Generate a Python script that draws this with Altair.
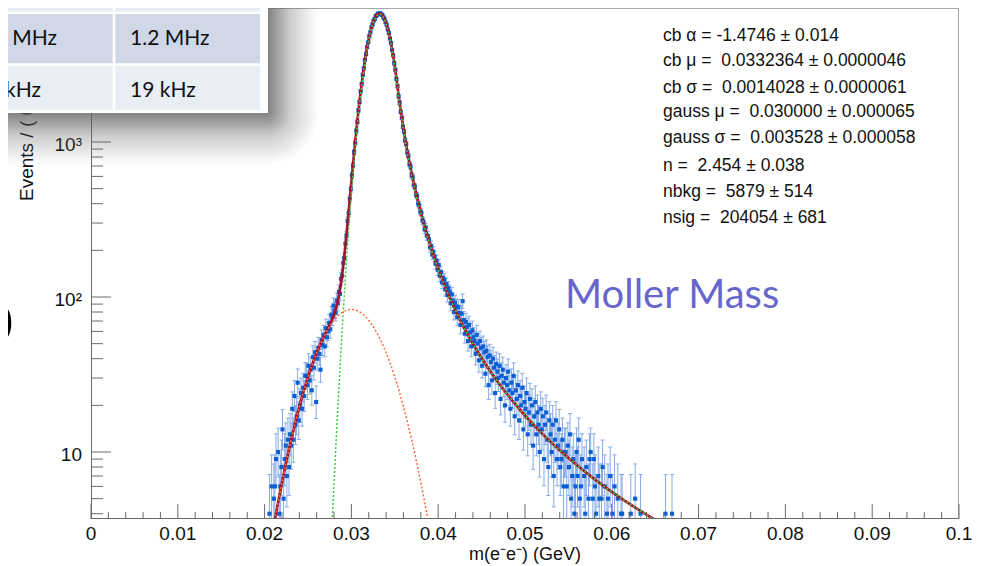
import altair as alt
import numpy as np
import pandas as pd

# ---------------- data ----------------
BIN_FIRST_EDGE = 0.0205      # GeV, left edge of first plotted bin
BIN_WIDTH = 0.000125         # GeV
counts = [
    4, 2, 6, 3, 5, 6, 9, 3, 10, 4,
    6, 8, 14, 5, 9, 11, 7, 12, 8, 13,
    11, 19, 12, 23, 15, 17, 28, 16, 20, 24,
    19, 26, 23, 31, 31, 27, 36, 29, 34, 25,
    41, 35, 44, 21, 40, 47, 43, 34, 53, 49,
    57, 48, 63, 55, 60, 68, 62, 77, 74, 88,
    82, 79, 95, 91, 108, 105, 131, 137, 166, 178,
    221, 249, 310, 348, 431, 498, 612, 706, 861, 989,
    1182, 1349, 1601, 1812, 2121, 2365, 2712, 2986, 3391, 3689,
    4102, 4398, 4815, 5102, 5497, 5731, 6064, 6221, 6493, 6581,
    6735, 6702, 6781, 6651, 6598, 6372, 6236, 5918, 5706, 5331,
    5061, 4652, 4347, 3921, 3624, 3215, 2927, 2550, 2289, 1972,
    1794, 1561, 1436, 1251, 1169, 1027, 971, 858, 812, 721,
    695, 611, 592, 527, 516, 457, 449,
    402, 391, 355, 350, 312, 305, 273, 281, 249, 247,
    236, 209, 214, 188, 196, 183, 164, 172, 150, 161,
    137, 145, 124, 133, 129, 112, 121, 103, 114, 108,
    91, 104, 95, 80, 92, 87, 74, 86, 79, 66,
    78, 94, 71, 58, 69, 64, 52, 66, 59, 48,
    61, 55, 52, 43, 57, 50, 39, 52, 47, 36,
    48, 44, 32, 45, 41, 27, 42, 38, 29, 40,
    35, 24, 37, 33, 30, 36, 22, 31, 34, 28,
    20, 30, 27, 33, 25, 19, 28, 24, 31, 17,
    25, 22, 27, 16, 23, 20, 26, 14, 21, 19,
    24, 13, 18, 22, 15, 20, 11, 17, 21, 13,
    18, 15, 10, 19, 14, 17, 9, 15, 18, 12,
    8, 16, 13, 10, 15, 7, 12, 16, 9, 11,
    14, 8, 9, 12, 6, 10, 10, 6, 11, 8,
    13, 5, 7, 9, 4, 6, 10, 7, 12, 5,
    6, 9, 3, 7, 4, 8, 2, 5, 9, 10,
    3, 5, 9, 6, 4, 3, 7, 5, 2, 5,
    8, 3, 6, 2, 4, 5, 3, 7, 2, 4,
    3, 6, 2, 3, 5, 3, 2, 4, 4, 3,
    2, 3, 2, 3, 1, 2, 4, 3, 2, 3,
    5, 2, 3, 1, 3, 4, 2, 3, 1, 2,
    3, 2, 3, 1, 2, 3, 2, 1, 3, 2,
    1, 3, 2, 0, 2, 1, 3, 2, 4, 1,
    2, 0, 1, 2, 4,
]

# total fit (red)
tot_x = [0.0200, 0.0205, 0.0210, 0.0215, 0.0220, 0.0225, 0.0230, 0.0235, 0.0240, 0.0245,
         0.0250, 0.0255, 0.0260, 0.0265, 0.0270,
         0.0275, 0.02775, 0.0280, 0.02825, 0.0285, 0.02875, 0.0290, 0.02925, 0.0295, 0.02975, 0.0300,
         0.03025, 0.0305, 0.03075, 0.0310, 0.03125, 0.0315, 0.03175, 0.0320, 0.03225, 0.0325,
         0.03275, 0.0330, 0.03325, 0.0335, 0.03375, 0.0340, 0.03425, 0.0345, 0.03475, 0.0350,
         0.03525, 0.0355, 0.03575,
         0.0360, 0.0365, 0.0370, 0.0375, 0.0380, 0.0385, 0.0390, 0.0395, 0.0400,
         0.041, 0.042, 0.043, 0.044, 0.045, 0.046, 0.047, 0.048, 0.049, 0.050,
         0.052, 0.054, 0.056, 0.058, 0.060, 0.062, 0.064, 0.066, 0.068]
tot_y = [1.50, 2.21, 3.21, 4.56, 6.35, 8.68, 11.6, 15.2, 19.6, 24.7,
         30.4, 36.8, 43.7, 50.8, 58.2,
         66.2, 71.0, 77.1, 85.6, 98.3, 118.2, 149.8, 199.2, 275.1, 387.9, 550.6,
         777.2, 1080.9, 1473.0, 1958.3, 2534.3, 3187.6, 3892.0, 4610.3, 5295.9, 5897.8,
         6365.7, 6658.5, 6749.1, 6628.7, 6308.3, 5817.1, 5197.4, 4499.6, 3774.8, 3068.1,
         2417.1, 1878.6, 1493.2,
         1210.8, 833.6, 602.9, 452.6, 349.6, 276.7, 223.2, 183.2, 152.4,
         109.5, 81.9, 63.1, 50.0, 40.4, 33.2, 27.7, 23.4, 20.0, 17.2,
         13.1, 10.26, 8.21, 6.69, 5.54, 4.65, 3.94, 3.38, 2.93]

# crystal-ball component (green, dotted)
cb_x = [0.0275, 0.0278, 0.0280, 0.02825, 0.0285, 0.02875, 0.0290, 0.02925, 0.0295, 0.02975, 0.0300,
        0.03025, 0.0305, 0.03075, 0.0310, 0.03125, 0.0315, 0.03175, 0.0320, 0.03225, 0.0325,
        0.03275, 0.0330, 0.03325, 0.0335, 0.03375, 0.0340, 0.03425, 0.0345, 0.03475, 0.0350,
        0.03525, 0.0355, 0.03575,
        0.0360, 0.0365, 0.0370, 0.0375, 0.0380, 0.0385, 0.0390, 0.0395, 0.0400,
        0.041, 0.042, 0.043, 0.044, 0.045, 0.046, 0.047, 0.048, 0.049, 0.050,
        0.052, 0.054, 0.056, 0.058, 0.060, 0.062, 0.064, 0.066, 0.068]
cb_y = [1.56, 3.67, 6.31, 12.07, 22.4, 40.2, 70.0, 118.0, 192.8, 305.0, 467.5,
        694.3, 998.6, 1391.8, 1878.5, 2456.3, 3111.7, 3818.5, 4539.5, 5228.1, 5833.2,
        6304.4, 6600.6, 6694.7, 6577.9, 6261.1, 5773.4, 5157.2, 4462.8, 3741.2, 3037.7,
        2389.6, 1853.9, 1471.2,
        1191.2, 818.4, 591.3, 443.9, 343.2, 272.1, 220.0, 181.0, 150.9,
        108.9, 81.7, 63.1, 50.0, 40.4, 33.2, 27.7, 23.4, 20.0, 17.2,
        13.1, 10.26, 8.21, 6.69, 5.54, 4.65, 3.94, 3.38, 2.93]

# gaussian background component (orange, dotted)
g_x = [0.0200, 0.0205, 0.0210, 0.0215, 0.0220, 0.0225, 0.0230, 0.0235, 0.0240, 0.0245,
       0.0250, 0.0255, 0.0260, 0.0265, 0.0270, 0.0275, 0.0280, 0.0285, 0.0290, 0.0295,
       0.0300, 0.0305, 0.0310, 0.0315, 0.0320, 0.0325, 0.0330, 0.0335, 0.0340, 0.0345,
       0.0350, 0.0355, 0.0360, 0.0365, 0.0370, 0.0375, 0.0380, 0.0385, 0.0390, 0.0395]
g_y = [1.50, 2.21, 3.21, 4.56, 6.35, 8.68, 11.6, 15.2, 19.6, 24.7,
       30.4, 36.8, 43.7, 50.8, 57.9, 64.6, 70.8, 75.9, 79.8, 82.3,
       83.1, 82.3, 79.8, 75.9, 70.8, 64.6, 57.9, 50.8, 43.7, 36.8,
       30.4, 24.7, 19.6, 15.2, 11.6, 8.68, 6.35, 4.56, 3.21, 2.21]

x_major = [0.0, 0.01, 0.02, 0.03, 0.04, 0.05, 0.06, 0.07, 0.08, 0.09, 0.1]
x_major_labels = ["0", "0.01", "0.02", "0.03", "0.04", "0.05", "0.06", "0.07", "0.08", "0.09", "0.1"]
x_minor = [round(0.002 * i, 4) for i in range(51) if i % 5 != 0]
y_major = [10, 100, 1000]
y_major_labels = ["10", "10²", "10³"]
y_minor = [4, 5, 6, 7, 8, 9, 20, 30, 40, 50, 60, 70, 80, 90,
           200, 300, 400, 500, 600, 700, 800, 900, 2000, 3000, 4000, 5000, 6000, 7000]

NB = "\u00a0"
stats_lines = [
    "cb α = -1.4746 ± 0.014",
    "cb μ = " + NB + "0.0332364 ± 0.0000046",
    "cb σ = " + NB + "0.0014028 ± 0.0000061",
    "gauss μ = " + NB + "0.030000 ± 0.000065",
    "gauss σ = " + NB + "0.003528 ± 0.000058",
    "n = " + NB + "2.454 ± 0.038",
    "nbkg = " + NB + "5879 ± 514",
    "nsig = " + NB + "204054 ± 681",
]

# ---------------- layout ----------------
F = "Liberation Sans"
FS = "Lato"
W, H = 868, 511
OX, OY = 91, 8          # page position of the plot origin


def P(xp):
    return xp - OX


def Q(yp):
    return yp - OY


xs = alt.Scale(domain=[0.0, 0.1], nice=False, zero=False)
ys = alt.Scale(type="log", domain=[3.697, 7320], nice=False)


def X(f):
    return alt.X(f, type="quantitative", scale=xs, axis=None)


def Y(f):
    return alt.Y(f, type="quantitative", scale=ys, axis=None)


n = np.array(counts, dtype=float)
xc = BIN_FIRST_EDGE + (np.arange(len(n)) + 0.5) * BIN_WIDTH
nn = np.maximum(n, 1.0)
lo = nn * (1 - 1 / (9 * nn) - 1 / (3 * np.sqrt(nn))) ** 3
hi = (n + 1) * (1 - 1 / (9 * (n + 1)) + 1 / (3 * np.sqrt(n + 1))) ** 3
pts = pd.DataFrame({"x": xc, "n": n, "lo": lo, "hi": hi})
pts = pts[pts.n >= 4]

tot_df = pd.DataFrame({"x": tot_x, "y": tot_y})
cb_df = pd.DataFrame({"x": cb_x, "y": cb_y})
g_df = pd.DataFrame({"x": g_x, "y": g_y})
one = pd.DataFrame({"a": [0]})

EB = "#86ABE8"
PT = "#0B5FD3"
AX = "#6a6a6a"

layers = []
layers.append(alt.Chart(pts).mark_rule(color=EB, strokeWidth=1, clip=True)
              .encode(x=X("x"), y=Y("lo"), y2="hi"))
layers.append(alt.Chart(pts).mark_rule(color=EB, strokeWidth=1, clip=True, xOffset=-2, x2Offset=2)
              .encode(x=X("x"), x2="x", y=Y("hi")))
layers.append(alt.Chart(pts).mark_rule(color=EB, strokeWidth=1, clip=True, xOffset=-2, x2Offset=2)
              .encode(x=X("x"), x2="x", y=Y("lo")))
layers.append(alt.Chart(pts).mark_square(size=17, color=PT, opacity=1, clip=True)
              .encode(x=X("x"), y=Y("n")))
layers.append(alt.Chart(tot_df).mark_line(color="#A3112E", strokeWidth=2.7, interpolate="monotone", clip=True)
              .encode(x=X("x"), y=Y("y")))
layers.append(alt.Chart(cb_df).mark_line(color="#3CCF3C", strokeWidth=1.5, strokeDash=[2, 2],
                                         interpolate="monotone", clip=True)
              .encode(x=X("x"), y=Y("y")))
layers.append(alt.Chart(g_df).mark_line(color="#FF6A3A", strokeWidth=1.5, strokeDash=[2, 2],
                                        interpolate="monotone", clip=True)
              .encode(x=X("x"), y=Y("y")))


# frame
def rule(x, x2, y, y2, color=AX, sw=1):
    return alt.Chart(one).mark_rule(color=color, strokeWidth=sw).encode(
        x=alt.value(x), x2=alt.value(x2), y=alt.value(y), y2=alt.value(y2))


layers.append(rule(0.5, 0.5, 0, H))
layers.append(rule(0, W, H - 0.5, H - 0.5))
layers.append(rule(0, W, 0.5, 0.5, color="#a8a8a8"))
layers.append(rule(W - 0.5, W - 0.5, 0, H, color="#a8a8a8"))

# ticks (inside the frame)
xmaj_df = pd.DataFrame({"v": x_major, "lab": x_major_labels})
layers.append(alt.Chart(xmaj_df).mark_rule(color=AX).encode(x=X("v"), y=alt.value(H), y2=alt.value(H - 15)))
layers.append(alt.Chart(pd.DataFrame({"v": x_minor})).mark_rule(color=AX)
              .encode(x=X("v"), y=alt.value(H), y2=alt.value(H - 7)))
ymaj_df = pd.DataFrame({"v": y_major, "lab": y_major_labels})
layers.append(alt.Chart(ymaj_df).mark_rule(color=AX).encode(y=Y("v"), x=alt.value(0), x2=alt.value(20)))
layers.append(alt.Chart(pd.DataFrame({"v": y_minor})).mark_rule(color=AX)
              .encode(y=Y("v"), x=alt.value(0), x2=alt.value(12)))

# tick labels
layers.append(alt.Chart(xmaj_df).mark_text(font=F, fontSize=19, align="center", baseline="alphabetic",
                                           color="#111")
              .encode(x=X("v"), y=alt.value(Q(540)), text="lab:N"))
layers.append(alt.Chart(ymaj_df).mark_text(font=F, fontSize=19, align="right", baseline="alphabetic",
                                           color="#111", dy=9)
              .encode(y=Y("v"), x=alt.value(P(82)), text="lab:N"))


def txt(s, x, y, size, color="#111", font=F, align="left", angle=0):
    return alt.Chart(one).mark_text(text=s, fontSize=size, font=font, color=color, align=align,
                                    baseline="alphabetic", angle=angle).encode(
        x=alt.value(x), y=alt.value(y))


# axis titles
layers.append(txt("m(e⁻e⁻) (GeV)", P(525), Q(560), 18, align="center"))
layers.append(txt("Events / ( 0.000125 GeV )", P(33), Q(201), 19, angle=270))

# fit results
stat_base = [41, 66, 92.5, 117, 143, 170.5, 196.5, 222.5]
for s, yb in zip(stats_lines, stat_base):
    layers.append(txt(s, P(663), Q(yb), 17.5))

# annotation
layers.append(txt("Moller Mass", P(565), Q(308), 40, color="#6666CC", font=FS))
layers.append(txt("0", P(13), Q(343), 56, color="#000", font=FS, align="right"))


# pasted table with drop shadow
def rect(x, x2, y, y2, fill):
    return alt.Chart(one).mark_rect(fill=fill, strokeWidth=0).encode(
        x=alt.value(x), x2=alt.value(x2), y=alt.value(y), y2=alt.value(y2))


SH = "rgba(95,95,95,0.78)"
SH2 = "rgba(95,95,95,0.3)"
SH0 = "rgba(95,95,95,0)"
grad_r = alt.LinearGradient(gradient="linear", x1=0, y1=0, x2=1, y2=0,
                            stops=[alt.GradientStop(color=SH, offset=0), alt.GradientStop(color=SH2, offset=0.45),
                                   alt.GradientStop(color=SH0, offset=1)])
grad_b = alt.LinearGradient(gradient="linear", x1=0, y1=0, x2=0, y2=1,
                            stops=[alt.GradientStop(color=SH, offset=0), alt.GradientStop(color=SH2, offset=0.45),
                                   alt.GradientStop(color=SH0, offset=1)])
grad_c = alt.RadialGradient(gradient="radial", x1=0, y1=0, r1=0, x2=0, y2=0, r2=1,
                            stops=[alt.GradientStop(color=SH, offset=0), alt.GradientStop(color=SH2, offset=0.45),
                                   alt.GradientStop(color=SH0, offset=1)])
layers.append(rect(P(268), P(318), Q(-10), Q(113), grad_r))
layers.append(rect(P(-10), P(268), Q(113), Q(165), grad_b))
layers.append(rect(P(268), P(318), Q(113), Q(165), grad_c))
layers.append(rect(P(-10), P(268), Q(-10), Q(113), "#ffffff"))
LIGHT = "#E9EDF4"
DARK = "#D0D8E8"
for (y0, y1, col) in [(-10, 11.7, LIGHT), (14, 63.3, DARK), (65.7, 110, LIGHT)]:
    layers.append(rect(P(-10), P(112.7), Q(y0), Q(y1), col))
    layers.append(rect(P(115.3), P(260), Q(y0), Q(y1), col))

layers.append(txt("5 MHz", P(57), Q(45), 21, font=FS, align="right"))
layers.append(txt("1.2 MHz", P(130), Q(45), 21, font=FS))
layers.append(txt("kHz", P(41), Q(97), 21, font=FS, align="right"))
layers.append(txt("19 kHz", P(130), Q(97), 21, font=FS))

chart = alt.layer(*layers).properties(
    width=W, height=H,
    padding={"left": OX - 8, "top": OY - 8, "right": 13, "bottom": 47},
    autosize=alt.AutoSizeParams(type="none"),
    background="white",
).configure_view(strokeWidth=0)

chart.save("out.html", embed_options={"renderer": "svg", "actions": False})
